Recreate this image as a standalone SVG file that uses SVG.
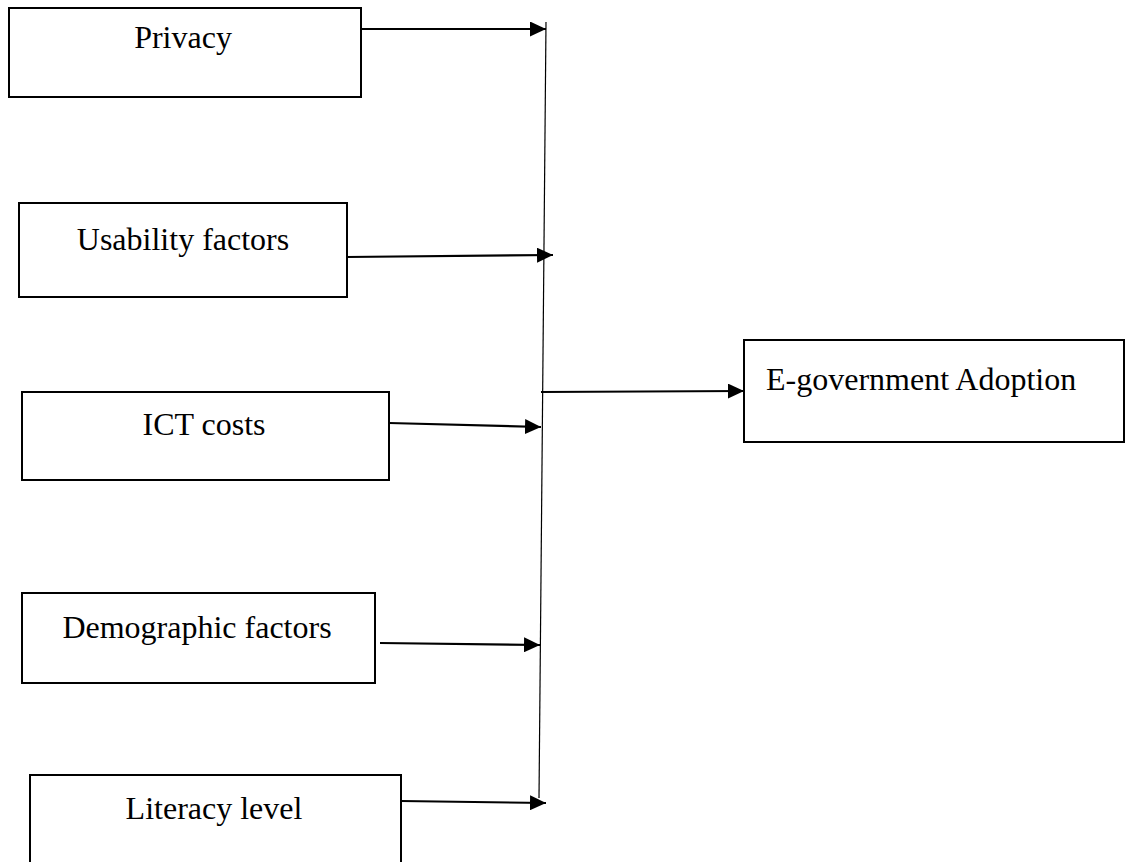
<svg xmlns="http://www.w3.org/2000/svg" width="1126" height="862" viewBox="0 0 1126 862">
  <style>
    .box { fill: #ffffff; stroke: #000000; stroke-width: 2; }
    .label { font-family: "Liberation Serif", "Times New Roman", serif; font-size: 32px; fill: #000000; }
    .mid { text-anchor: middle; }
    .arrow { stroke: #000000; stroke-width: 2.2; fill: none; marker-end: url(#head); }
    .spine { stroke: #000000; stroke-width: 1.2; fill: none; }
  </style>
  <defs>
    <!-- solid triangular head, tip at the end of the line -->
    <marker id="head" markerUnits="userSpaceOnUse" markerWidth="16" markerHeight="15" refX="16" refY="7.5" orient="auto">
      <path d="M0,0 L16,7.5 L0,15 Z" fill="#000000"/>
    </marker>
  </defs>
  <rect width="1126" height="862" fill="#ffffff"/>

  <g id="node-privacy">
    <rect class="box" x="9" y="8" width="352" height="89"/>
    <text class="label mid" x="183" y="48">Privacy</text>
  </g>

  <g id="node-usability">
    <rect class="box" x="19" y="203" width="328" height="94"/>
    <text class="label mid" x="183" y="250">Usability factors</text>
  </g>

  <g id="node-ict">
    <rect class="box" x="22" y="392" width="367" height="88"/>
    <text class="label mid" x="204" y="435">ICT costs</text>
  </g>

  <g id="node-demographic">
    <rect class="box" x="22" y="593" width="353" height="90"/>
    <text class="label mid" x="197" y="638">Demographic factors</text>
  </g>

  <g id="node-literacy">
    <rect class="box" x="30" y="775" width="371" height="100"/>
    <text class="label mid" x="214" y="819">Literacy level</text>
  </g>

  <g id="node-egov">
    <rect class="box" x="744" y="340" width="380" height="102"/>
    <text class="label" x="766" y="390">E-government Adoption</text>
  </g>

  <g id="connectors">
    <!-- slightly slanted collector line -->
    <line class="spine" x1="546" y1="22" x2="539" y2="798"/>
    <line class="arrow" x1="360" y1="29" x2="546" y2="29"/>
    <line class="arrow" x1="347" y1="257" x2="553" y2="255"/>
    <line class="arrow" x1="389" y1="423" x2="541" y2="427"/>
    <line class="arrow" x1="380" y1="643" x2="540" y2="645"/>
    <line class="arrow" x1="401" y1="801" x2="546" y2="803"/>
    <line class="arrow" x1="541" y1="392" x2="744" y2="391"/>
  </g>
</svg>
